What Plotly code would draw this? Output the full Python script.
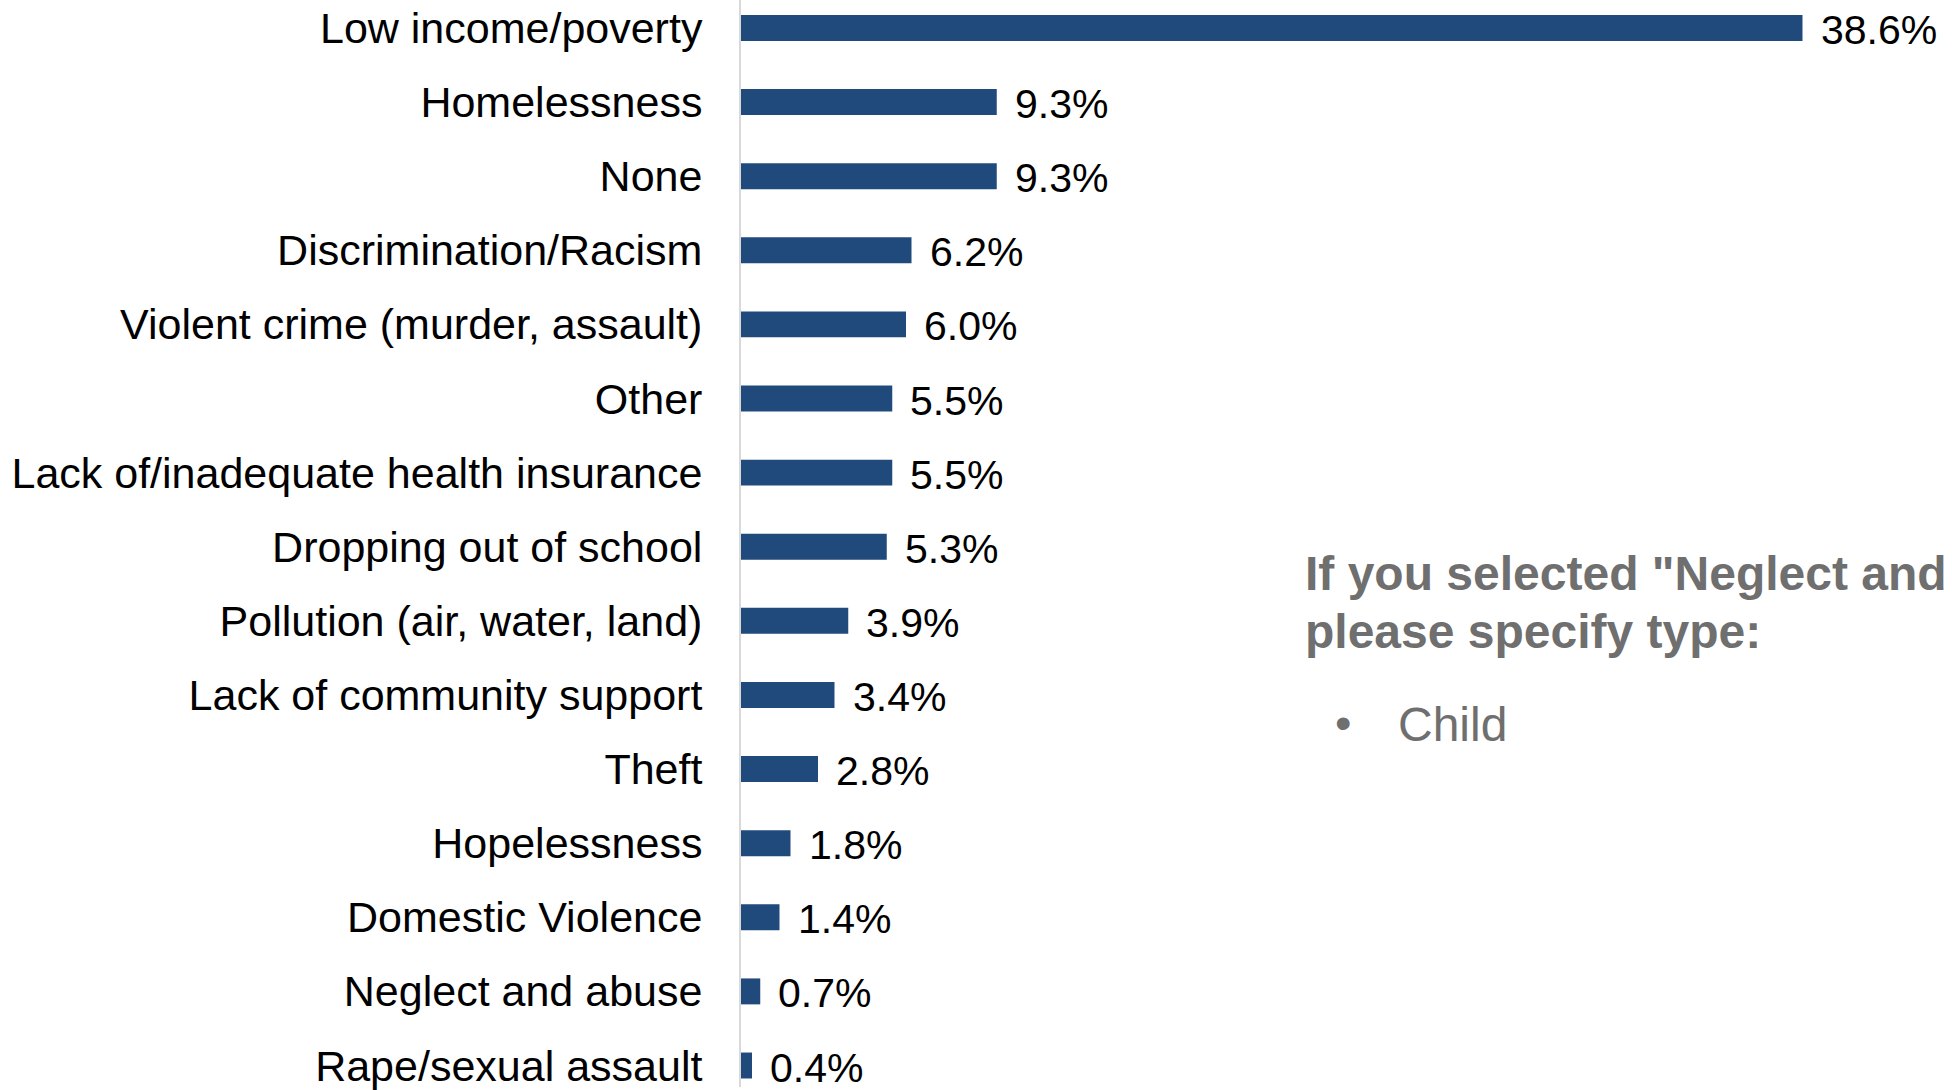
import plotly.graph_objects as go

# Issues reported, ordered from most to least frequent
categories = [
    "Low income/poverty",
    "Homelessness",
    "None",
    "Discrimination/Racism",
    "Violent crime (murder, assault)",
    "Other",
    "Lack of/inadequate health insurance",
    "Dropping out of school",
    "Pollution (air, water, land)",
    "Lack of community support",
    "Theft",
    "Hopelessness",
    "Domestic Violence",
    "Neglect and abuse",
    "Rape/sexual assault",
]
percent = [38.6, 9.3, 9.3, 6.2, 6.0, 5.5, 5.5, 5.3, 3.9, 3.4, 2.8, 1.8, 1.4, 0.7, 0.4]
value_labels = [f"{v:.1f}%" for v in percent]

note_lines = ['If you selected "Neglect and', "please specify type:"]
note_items = ["Child"]

W, H = 1952, 1090
BAR_COLOR = "#214A7C"
NOTE_COLOR = "#6F6F6F"
FONT = "Liberation Sans, Arial, sans-serif"

fig = go.Figure()
fig.add_trace(go.Bar(
    x=percent,
    y=categories,
    orientation="h",
    width=0.35,
    marker=dict(color=BAR_COLOR, line=dict(width=0)),
    hoverinfo="skip",
))

annotations = []
# value labels to the right of each bar
for cat, v, lab in zip(categories, percent, value_labels):
    annotations.append(dict(
        x=v, y=cat, xref="x", yref="y", text=lab, showarrow=False,
        xanchor="left", yanchor="middle", xshift=16, yshift=-2,
        font=dict(family=FONT, size=41, color="#000000"),
    ))

# side note (bold heading, then bullet list)
def py(px):
    return 1 - px / H

heading_centers = [575, 633]
for line, yc in zip(note_lines, heading_centers):
    annotations.append(dict(
        x=1303 / W, y=py(yc), xref="paper", yref="paper",
        text=f"<b>{line}</b>", showarrow=False, xanchor="left", yanchor="middle",
        font=dict(family=FONT, size=48, color=NOTE_COLOR),
    ))
for item in note_items:
    annotations.append(dict(
        x=1343 / W, y=py(724), xref="paper", yref="paper", text="•",
        showarrow=False, xanchor="center", yanchor="middle",
        font=dict(family=FONT, size=47, color=NOTE_COLOR),
    ))
    annotations.append(dict(
        x=1396 / W, y=py(727), xref="paper", yref="paper", text=item,
        showarrow=False, xanchor="left", yanchor="middle",
        font=dict(family=FONT, size=48, color=NOTE_COLOR),
    ))

fig.update_layout(
    width=W, height=H,
    margin=dict(l=0, r=0, t=0, b=0),
    paper_bgcolor="white", plot_bgcolor="white",
    showlegend=False,
    annotations=annotations,
    xaxis=dict(
        domain=[741 / W, 1841 / W], range=[0, 40],
        showgrid=False, zeroline=False, showline=False,
        showticklabels=False, ticks="",
    ),
    yaxis=dict(
        type="category", categoryorder="array", categoryarray=categories,
        range=[14.29, -0.377],
        showgrid=False, zeroline=False,
        showline=True, linecolor="#D9D9D9", linewidth=2,
        ticks="", ticklabelstandoff=28,
        tickfont=dict(family=FONT, size=43, color="#000000"),
    ),
)

fig.write_html("out.html")
